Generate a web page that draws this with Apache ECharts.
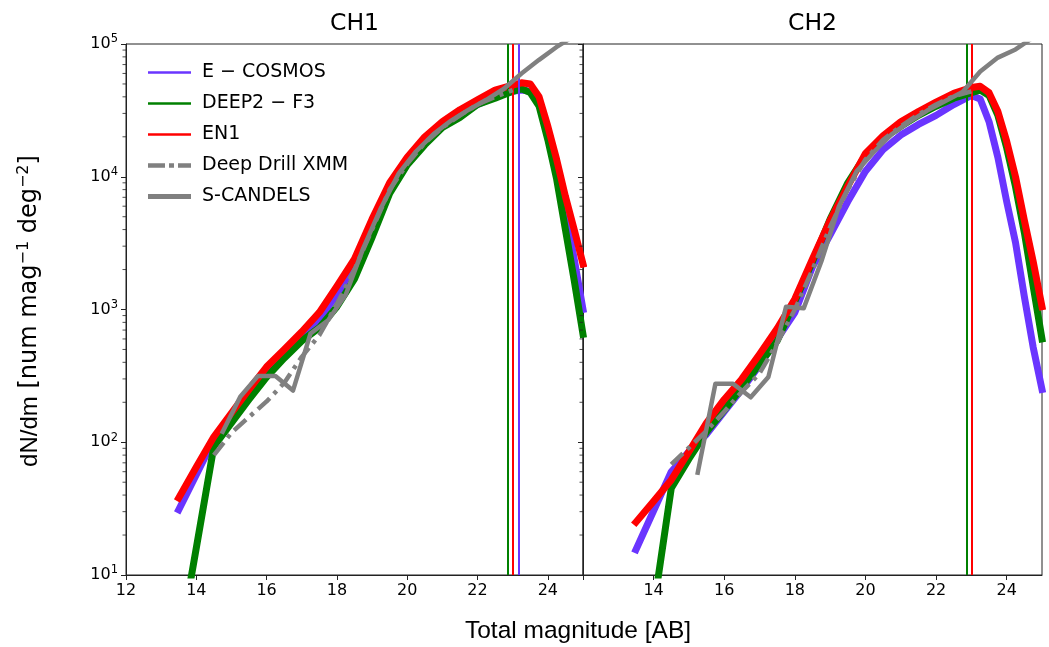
<!DOCTYPE html>
<html><head><meta charset="utf-8">
<script src="https://cdn.jsdelivr.net/npm/echarts@6/dist/echarts.min.js"></script>
<style>html,body{margin:0;padding:0;background:#fff}#c{width:1049px;height:647px}</style>
</head><body><div id="c"></div>
<script>
// ---------- data ----------
const panelTitles = ['CH1', 'CH2'];
const seriesNames = ['E − COSMOS', 'DEEP2 − F3', 'EN1', 'Deep Drill XMM', 'S-CANDELS'];
const xTicks = [12, 14, 16, 18, 20, 22, 24];

const magBins = [13.5, 14, 14.5, 15, 15.5, 16, 16.5, 17, 17.5, 18, 18.5, 19, 19.5, 20, 20.5, 21, 21.5, 22, 22.5, 23, 23.25, 23.5, 23.75, 24, 24.25, 24.5, 24.75, 25];

// CH1
const ecosmosCH1 = [31, 57, 105, 150, 225, 330, 460, 650, 850, 1300, 2100, 4300, 8200, 13000, 18500, 24000, 29500, 35000, 40000, 44000, 45000, 44000, 36000, 21000, 11500, 5500, 2400, 1000];
const deep2CH1   = [2.8, 16, 93, 140, 210, 310, 430, 580, 730, 1050, 1700, 3500, 7500, 12300, 17400, 23500, 28000, 35000, 39000, 44000, 46000, 43000, 34000, 19000, 9600, 4000, 1660, 650];
const en1CH1     = [38, 65, 110, 166, 250, 370, 500, 680, 950, 1500, 2400, 4800, 9000, 14000, 20000, 26000, 32000, 38000, 45000, 49000, 51000, 50000, 40000, 24000, 13500, 7100, 4000, 2200];
// CH2
const ecosmosCH2 = [15.5, 30.5, 60, 85, 115, 170, 250, 380, 600, 950, 2100, 3650, 6500, 11000, 16000, 20600, 24800, 29000, 35000, 41000, 38500, 26000, 14000, 6500, 3200, 1250, 520, 250];
const deep2CH2   = [0.7, 5.6, 45, 75, 120, 175, 260, 390, 580, 1150, 2300, 4800, 9000, 14500, 19500, 24000, 29000, 34000, 39000, 43000, 45000, 41000, 29000, 16500, 8400, 3800, 1500, 600];
const en1CH2     = [25, 36, 52, 85, 140, 210, 300, 460, 720, 1200, 2400, 4700, 8500, 15000, 20400, 26000, 31000, 36500, 42500, 47000, 48000, 43000, 31000, 18500, 10000, 4700, 2300, 1050];

// Deep Drill XMM
const ddxMag = [14.5, 15, 15.5, 16, 16.5, 17, 17.5, 18, 18.5, 19, 19.5, 20, 20.5, 21, 21.5, 22, 22.5, 23];
const ddxCH1 = [80, 118, 155, 203, 280, 440, 640, 1100, 2000, 4000, 8000, 12500, 18000, 23500, 29000, 35000, 40000, 45000];
const ddxCH2 = [68, 91, 122, 170, 240, 330, 560, 1000, 2000, 4200, 8000, 13500, 19000, 24000, 29500, 35000, 40500, 44000];

// S-CANDELS
const scMagCH1 = [14.75, 15.25, 15.75, 16.25, 16.75, 17.25, 17.75, 18.25, 18.75, 19.25, 19.75, 20.25, 20.75, 21.25, 21.75, 22.25, 22.75, 23.25, 23.75, 24.25, 24.75];
const scCH1    = [120, 220, 315, 315, 245, 660, 830, 1290, 2900, 5800, 10500, 15500, 21000, 26500, 32000, 38000, 46000, 60000, 76000, 95000, 115000];
const scMagCH2 = [15.25, 15.75, 16.25, 16.75, 17.25, 17.75, 18.25, 18.75, 19.25, 19.75, 20.25, 20.75, 21.25, 21.75, 22.25, 22.75, 23.25, 23.75, 24.25, 24.75];
const scCH2    = [59, 276, 276, 218, 310, 1050, 1020, 2300, 6000, 11000, 15500, 21000, 26000, 31500, 37000, 43500, 62000, 79000, 91000, 112000];

// magnitude limits (vertical lines): [E-COSMOS, DEEP2-F3, EN1]
const limitsCH1 = [23.16, 22.85, 23.01];
const limitsCH2 = [null, 22.88, 23.01];

// ---------- styles ----------
const colors = ['#6a35ff', '#008000', '#ff0000', '#808080', '#808080'];
const dashDot = [16, 6, 4, 6];
const legendIcons = [
  'path://M0,0h43v2.5h-43z',
  'path://M0,0h43v2.5h-43z',
  'path://M0,0h43v2.5h-43z',
  'path://M0,0h17v4.5h-17z M21,0h5v4.5h-5z M30,0h13v4.5h-13z',
  'path://M0,0h43v5h-43z'
];

const chart = echarts.init(document.getElementById('c'), null, {renderer: 'canvas'});

const gridsCfg = [{left: 126, width: 457}, {left: 583, width: 459}];

function pairs(xs, ys) { return xs.map((x, k) => [x, ys[k]]); }

function mkLine(name, data, gi, color, width, type, z, cap, limit) {
  const s = {
    type: 'line', name: name, xAxisIndex: gi, yAxisIndex: gi, data: data,
    symbol: 'none', showSymbol: false, z: z, animation: false, silent: true,
    lineStyle: {color: color, width: width, type: type, cap: cap, join: 'round'},
    itemStyle: {color: color},
    clip: true
  };
  if (limit != null) {
    s.markLine = {
      silent: true, symbol: ['none', 'none'], animation: false,
      label: {show: false},
      lineStyle: {color: color, width: 2, type: 'solid'},
      data: [{xAxis: limit}]
    };
  }
  return s;
}

// minor ticks for log axis (2..9 x 10^k)
const minorVals = [];
for (let k = 1; k < 5; k++) for (let m = 2; m < 10; m++) minorVals.push(m * Math.pow(10, k));

function minorTickSeries(gi) {
  return {
    type: 'custom', xAxisIndex: gi, yAxisIndex: gi, silent: true, animation: false, z: 10,
    data: minorVals.map(v => [12, v]),
    clip: false,
    renderItem: function (params, api) {
      const p = api.coord([api.value(0), api.value(1)]);
      return {type: 'line', shape: {x1: p[0] - 3.5, y1: p[1], x2: p[0], y2: p[1]},
              style: {stroke: '#222', lineWidth: 0.8}};
    }
  };
}

const panels = [
  {ec: ecosmosCH1, d2: deep2CH1, en: en1CH1, ddx: ddxCH1, scX: scMagCH1, sc: scCH1, lim: limitsCH1},
  {ec: ecosmosCH2, d2: deep2CH2, en: en1CH2, ddx: ddxCH2, scX: scMagCH2, sc: scCH2, lim: limitsCH2}
];

const series = [];
panels.forEach((p, gi) => {
  series.push(mkLine(seriesNames[0], pairs(magBins, p.ec), gi, colors[0], 7, 'solid', 2, 'square', p.lim[0]));
  series.push(mkLine(seriesNames[1], pairs(magBins, p.d2), gi, colors[1], 7, 'solid', 3, 'square', p.lim[1]));
  series.push(mkLine(seriesNames[2], pairs(magBins, p.en), gi, colors[2], 7, 'solid', 4, 'square', p.lim[2]));
  series.push(mkLine(seriesNames[3], pairs(ddxMag, p.ddx), gi, colors[3], 4.5, dashDot, 5, 'butt', null));
  series.push(mkLine(seriesNames[4], pairs(p.scX, p.sc), gi, colors[4], 4.5, 'solid', 6, 'square', null));
  series.push(minorTickSeries(gi));
});

const option = {
  animation: false,
  backgroundColor: '#fff',
  grid: gridsCfg.map(g => ({left: g.left, width: g.width, top: 44, height: 531, show: true,
    borderColor: '#222', borderWidth: 1, backgroundColor: 'transparent', containLabel: false})),
  xAxis: gridsCfg.map((g, gi) => ({
    type: 'value', gridIndex: gi, min: 12, max: 25, interval: 2,
    axisLine: {show: true, lineStyle: {color: '#222', width: 1}},
    axisTick: {show: true, length: 5, lineStyle: {color: '#222', width: 1}, customValues: xTicks},
    splitLine: {show: false},
    axisLabel: {color: '#000', fontSize: 16, fontFamily: 'DejaVu Sans', margin: 8,
      customValues: gi === 1 ? xTicks.slice(1) : xTicks,
      formatter: v => (xTicks.indexOf(v) < 0 || (gi === 1 && v === 12)) ? '' : String(v)}
  })),
  yAxis: gridsCfg.map((g, gi) => ({
    type: 'log', logBase: 10, gridIndex: gi, min: 10, max: 100000,
    axisLine: {show: true, lineStyle: {color: '#222', width: 1}},
    axisTick: {show: true, length: 5, lineStyle: {color: '#222', width: 1}},
    splitLine: {show: false},
    minorTick: {show: false},
    axisLabel: {show: gi === 0, margin: 8, color: '#000',
      formatter: v => '{b|10}{s|' + Math.round(Math.log10(v)) + '}',
      rich: {b: {fontSize: 16, fontFamily: 'DejaVu Sans', color: '#000'},
             s: {fontSize: 11.5, fontFamily: 'DejaVu Sans', color: '#000', padding: [0, 0, 9, 0]}}}
  })),
  legend: {
    show: true, orient: 'vertical', left: 143, top: 58,
    itemWidth: 43, itemHeight: 14, itemGap: 12,
    selectedMode: false,
    textStyle: {fontSize: 19, fontFamily: 'DejaVu Sans', color: '#000', padding: [0, 0, 0, 6]},
    data: seriesNames.map((n, k) => ({name: n, icon: legendIcons[k],
      itemStyle: {color: colors[k], borderWidth: 0}}))
  },
  graphic: [
    {type: 'text', x: 354.5, y: 24, silent: true, style: {text: panelTitles[0], fill: '#000',
      font: '23.5px "DejaVu Sans"', textAlign: 'center', textVerticalAlign: 'middle'}},
    {type: 'text', x: 812.5, y: 24, silent: true, style: {text: panelTitles[1], fill: '#000',
      font: '23.5px "DejaVu Sans"', textAlign: 'center', textVerticalAlign: 'middle'}},
    {type: 'text', x: 578, y: 631, silent: true, style: {text: 'Total magnitude [AB]', fill: '#000',
      font: '24.5px "Liberation Sans"', textAlign: 'center', textVerticalAlign: 'middle'}},
    {type: 'text', x: 30, y: 311, rotation: Math.PI / 2, silent: true, style: {
      text: '{a|dN/dm}{b| [num mag}{s|−1}{b| deg}{s|−2}{b|]}',
      textAlign: 'center', textVerticalAlign: 'middle', fill: '#000',
      rich: {
        a: {fontSize: 24, fontFamily: 'Liberation Sans', fill: '#000'},
        b: {fontSize: 24, fontFamily: 'DejaVu Sans', fill: '#000'},
        s: {fontSize: 16, fontFamily: 'DejaVu Sans', fill: '#000', padding: [0, 0, 13, 0]}
      }}}
  ],
  series: series
};
chart.setOption(option);
</script>
</body></html>
